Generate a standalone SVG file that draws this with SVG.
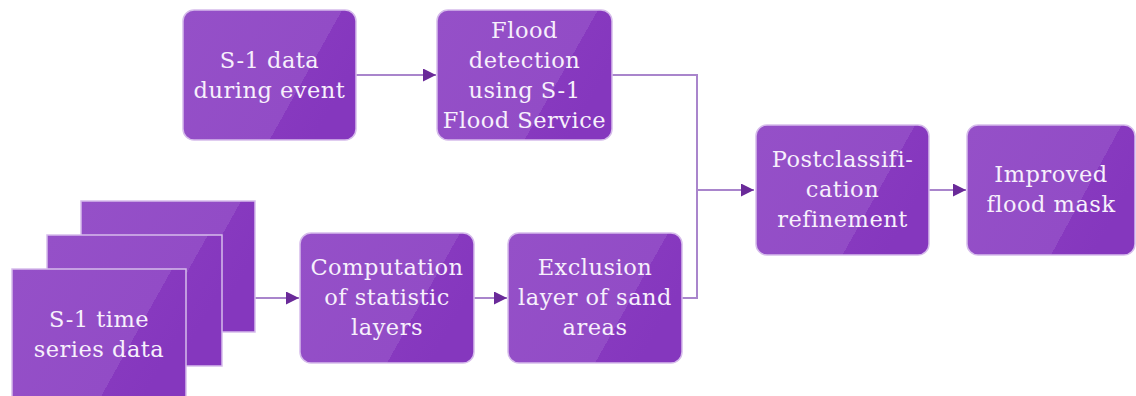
<svg xmlns="http://www.w3.org/2000/svg" width="1136" height="396" viewBox="0 0 1136 396">
<style>
.box{fill:url(#g);stroke:#d6bceb;stroke-width:1.5}
.t{font-family:"DejaVu Serif","Liberation Serif",serif;font-size:22.5px;fill:#f7f0fc;text-anchor:middle;letter-spacing:0.5px}
.c{fill:none;stroke:#a985cc;stroke-width:2}
</style>
<defs>
<linearGradient id="g" x1="0" y1="0" x2="1" y2="0.42">
<stop offset="0" stop-color="#9550c8"/>
<stop offset="0.782" stop-color="#924cc6"/>
<stop offset="0.782" stop-color="#8739bf"/>
<stop offset="1" stop-color="#8537be"/>
</linearGradient>
<marker id="a" viewBox="0 0 10 10" refX="10" refY="5" markerWidth="6.5" markerHeight="6.5" orient="auto" markerUnits="strokeWidth">
<path d="M0,0 L10,5 L0,10 z" fill="#6a2a99"/>
</marker>
</defs>
<g id="connectors">
<line class="c" x1="356" y1="75" x2="436" y2="75" marker-end="url(#a)"/>
<polyline class="c" points="612,75 697,75 697,298 682,298"/>
<line class="c" x1="697" y1="190" x2="754" y2="190" marker-end="url(#a)"/>
<line class="c" x1="929" y1="190" x2="966" y2="190" marker-end="url(#a)"/>
<line class="c" x1="255" y1="298" x2="299" y2="298" marker-end="url(#a)"/>
<line class="c" x1="474" y1="298" x2="507" y2="298" marker-end="url(#a)"/>
</g>
<g id="s1-during">
<rect class="box" x="183" y="10" width="173" height="130" rx="11"/>
<text class="t" x="269.5" y="68">S-1 data</text>
<text class="t" x="269.5" y="98">during event</text>
</g>
<g id="flood-detection">
<rect class="box" x="437" y="10" width="175" height="130" rx="11"/>
<text class="t" x="524.5" y="38">Flood</text>
<text class="t" x="524.5" y="68">detection</text>
<text class="t" x="524.5" y="98">using S-1</text>
<text class="t" x="524.5" y="128">Flood Service</text>
</g>
<g id="s1-timeseries">
<rect class="box" x="81" y="201" width="174" height="131"/>
<rect class="box" x="47" y="235" width="175" height="131"/>
<rect class="box" x="12" y="269" width="174" height="131"/>
<text class="t" x="99" y="327">S-1 time</text>
<text class="t" x="99" y="357">series data</text>
</g>
<g id="computation">
<rect class="box" x="300" y="233" width="174" height="130" rx="11"/>
<text class="t" x="387" y="275">Computation</text>
<text class="t" x="387" y="305">of statistic</text>
<text class="t" x="387" y="335">layers</text>
</g>
<g id="exclusion">
<rect class="box" x="508" y="233" width="174" height="130" rx="11"/>
<text class="t" x="595" y="275">Exclusion</text>
<text class="t" x="595" y="305">layer of sand</text>
<text class="t" x="595" y="335">areas</text>
</g>
<g id="postclassification">
<rect class="box" x="756" y="125" width="173" height="130" rx="11"/>
<text class="t" x="842.5" y="167">Postclassifi-</text>
<text class="t" x="842.5" y="197">cation</text>
<text class="t" x="842.5" y="227">refinement</text>
</g>
<g id="improved">
<rect class="box" x="967" y="125" width="168" height="130" rx="11"/>
<text class="t" x="1051" y="182">Improved</text>
<text class="t" x="1051" y="212">flood mask</text>
</g>
</svg>
